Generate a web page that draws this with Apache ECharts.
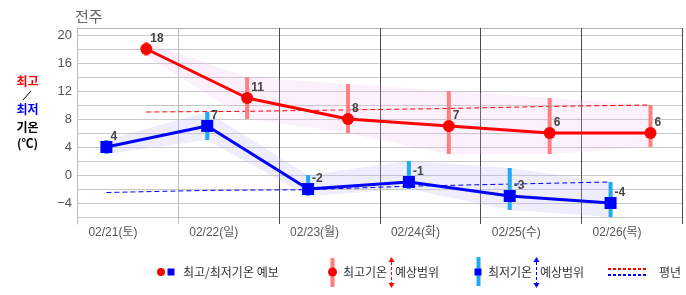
<!DOCTYPE html>
<html><head><meta charset="utf-8">
<script src="https://cdn.jsdelivr.net/npm/echarts@6/dist/echarts.min.js"></script>
<style>html,body{margin:0;padding:0;background:#fff}#c{width:686px;height:295px}</style>
</head><body><div id="c"></div>
<script>
const days = ['02/21(토)','02/22(일)','02/23(월)','02/24(화)','02/25(수)','02/26(목)'];
const maxTemp = [18, 11, 8, 7, 6, 6];
const minTemp = [4, 7, -2, -1, -3, -4];
const maxLow  = [17, 8, 6, 3, 3, 4];
const maxHigh = [19, 14, 13, 12, 11, 10];
const minLow  = [3, 5, -3, -2, -5, -6];
const minHigh = [5, 9, 0, 2, 1, -1];
const normalMax = [9.0, 9.1, 9.3, 9.5, 9.8, 10.0];
const normalMin = [-2.5, -2.2, -2.1, -1.6, -1.3, -1.0];
const yTickLabels = [-4, 0, 4, 8, 12, 16, 20];
const yGridValues = [-6, -4, -2, 0, 2, 4, 6, 8, 10, 12, 14, 16, 18, 20, 21];
const dayBoundaries = [1, 2, 3, 4, 5, 6];
const Y_MIN = -7, Y_MAX = 21;
const MIN_HOUR = 7, MAX_HOUR = 16.5;

const minX = days.map((d, i) => i + MIN_HOUR / 24);
const maxX = days.map((d, i) => i + MAX_HOUR / 24);

const NUMFONT = "'Liberation Sans','Noto Sans CJK KR',sans-serif";
const KRFONT = "'Noto Sans CJK KR',sans-serif";

function bandSeries(xs, lo, hi, color) {
  return {
    type: 'custom', xAxisIndex: 1, yAxisIndex: 0, z: 2, silent: true,
    data: xs.map((x, i) => [x, lo[i], hi[i]]),
    encode: { x: 0, y: [1, 2] },
    renderItem: function (params, api) {
      if (params.dataIndex !== 0) return null;
      const up = xs.map((x, i) => api.coord([x, hi[i]]));
      const dn = xs.map((x, i) => api.coord([x, lo[i]])).reverse();
      return { type: 'polygon', shape: { points: up.concat(dn) }, style: { fill: color } };
    }
  };
}
function errSeries(xs, lo, hi, color) {
  return {
    type: 'custom', xAxisIndex: 1, yAxisIndex: 0, z: 4, silent: true,
    data: xs.map((x, i) => [x, lo[i], hi[i]]),
    encode: { x: 0, y: [1, 2] },
    renderItem: function (params, api) {
      const p1 = api.coord([api.value(0), api.value(1)]);
      const p2 = api.coord([api.value(0), api.value(2)]);
      return { type: 'line', shape: { x1: p1[0], y1: p1[1], x2: p2[0], y2: p2[1] }, style: { stroke: color, lineWidth: 4 } };
    }
  };
}
const hGridSeries = {
  type: 'custom', xAxisIndex: 1, yAxisIndex: 0, z: 1, silent: true, clip: false,
  data: yGridValues.map(v => [0, v]),
  encode: { x: 0, y: 1 },
  renderItem: function (params, api) {
    const v = api.value(1);
    const a = api.coord([0, v]), b = api.coord([6, v]);
    const y = Math.round(a[1]) + 0.5;
    return { type: 'line', shape: { x1: a[0], y1: y, x2: b[0], y2: y },
      style: { stroke: v === Y_MAX ? '#b0b0b0' : '#c8c8c8', lineWidth: 1 } };
  }
};
const vGridSeries = {
  type: 'custom', xAxisIndex: 1, yAxisIndex: 0, z: 1, silent: true, clip: false,
  data: dayBoundaries.map(v => [v, Y_MIN]),
  encode: { x: 0, y: 1 },
  renderItem: function (params, api) {
    const v = api.value(0);
    const a = api.coord([v, Y_MIN]), b = api.coord([v, Y_MAX]);
    const x = Math.round(a[0]) + 0.5;
    return { type: 'line', shape: { x1: x, y1: a[1], x2: x, y2: b[1] },
      style: { stroke: v === 1 ? '#bbbbbb' : '#4a4a4a', lineWidth: 1 } };
  }
};

const labelCfg = { show: true, position: 'right', distance: -2, offset: [0, -10], formatter: p => String(p.value[1]), color: '#444', fontWeight: 'bold', fontSize: 12, fontFamily: NUMFONT };

const chart = echarts.init(document.getElementById('c'), null, { renderer: 'canvas' });
chart.setOption({
  animation: false,
  backgroundColor: '#fff',
  grid: { left: 77, right: 4, top: 28, bottom: 71, outerBoundsMode: 'none' },
  xAxis: [
    { type: 'category', data: days, boundaryGap: true,
      axisLine: { show: true, lineStyle: { color: '#aaa' } }, axisTick: { show: false },
      axisLabel: { color: '#555', fontSize: 12, fontFamily: NUMFONT, margin: 3, padding: [0, 29, 0, 0] },
      splitLine: { show: false } },
    { type: 'value', min: 0, max: 6, show: false, splitLine: { show: false } }
  ],
  yAxis: { type: 'value', min: Y_MIN, max: Y_MAX,
    axisLine: { show: true, lineStyle: { color: '#bbb' } }, axisTick: { show: false },
    splitLine: { show: false },
    axisLabel: { customValues: yTickLabels, color: '#555', fontSize: 13, fontFamily: NUMFONT, margin: 5,
      formatter: v => String(v).replace('-', '\u2212') } },
  series: [
    hGridSeries,
    vGridSeries,
    bandSeries(minX, minLow, minHigh, 'rgba(190,190,245,0.28)'),
    bandSeries(maxX, maxLow, maxHigh, 'rgba(245,185,245,0.22)'),
    { type: 'line', xAxisIndex: 1, data: maxX.map((x, i) => [x, normalMax[i]]), symbol: 'none', z: 3,
      lineStyle: { color: '#ff0000', width: 1, type: [5, 3] }, silent: true },
    { type: 'line', xAxisIndex: 1, data: minX.map((x, i) => [x, normalMin[i]]), symbol: 'none', z: 3,
      lineStyle: { color: '#0000ff', width: 1, type: [5, 3] }, silent: true },
    errSeries(maxX, maxLow, maxHigh, '#ff7f7f'),
    errSeries(minX, minLow, minHigh, '#1eaaf5'),
    { type: 'line', xAxisIndex: 1, data: maxX.map((x, i) => [x, maxTemp[i]]), z: 5,
      symbol: 'circle', symbolSize: 12, itemStyle: { color: '#ff0000' },
      lineStyle: { color: '#ff0000', width: 3 }, label: labelCfg },
    { type: 'line', xAxisIndex: 1, data: minX.map((x, i) => [x, minTemp[i]]), z: 5,
      symbol: 'rect', symbolSize: 12, itemStyle: { color: '#0000ff' },
      lineStyle: { color: '#0000ff', width: 3 }, label: labelCfg }
  ],
  graphic: [
    { type: 'text', x: 75, y: 16, style: { text: '전주', fill: '#666', font: '15px ' + KRFONT, verticalAlign: 'middle' } },
    { type: 'text', x: 27.5, y: 81, style: { text: '최고', fill: '#ff0000', font: 'bold 12px ' + KRFONT, align: 'center', verticalAlign: 'middle' } },
    { type: 'line', shape: { x1: 23, y1: 100, x2: 31, y2: 91 }, style: { stroke: '#000', lineWidth: 1 } },
    { type: 'text', x: 27.5, y: 109, style: { text: '최저', fill: '#0000ff', font: 'bold 12px ' + KRFONT, align: 'center', verticalAlign: 'middle' } },
    { type: 'text', x: 27.5, y: 127, style: { text: '기온', fill: '#000', font: 'bold 12px ' + KRFONT, align: 'center', verticalAlign: 'middle' } },
    { type: 'text', x: 27.5, y: 143, style: { text: '(℃)', fill: '#000', font: 'bold 12px ' + KRFONT, align: 'center', verticalAlign: 'middle' } },
    { type: 'circle', shape: { cx: 161, cy: 272, r: 4 }, style: { fill: '#ff0000' } },
    { type: 'rect', shape: { x: 167.5, y: 268.5, width: 7, height: 7 }, style: { fill: '#0000ff' } },
    { type: 'text', x: 183, y: 272, style: { text: '최고/최저기온 예보', fill: '#333', font: '12px ' + KRFONT, verticalAlign: 'middle' } },
    { type: 'rect', shape: { x: 330.5, y: 258, width: 4, height: 29 }, style: { fill: '#ff7f7f' } },
    { type: 'circle', shape: { cx: 332.5, cy: 272, r: 4.5 }, style: { fill: '#ff0000' } },
    { type: 'text', x: 343, y: 272, style: { text: '최고기온', fill: '#333', font: '12px ' + KRFONT, verticalAlign: 'middle' } },
    { type: 'text', x: 395, y: 272, style: { text: '예상범위', fill: '#333', font: '12px ' + KRFONT, verticalAlign: 'middle' } },
    { type: 'polygon', shape: { points: [[388.5, 262], [394.5, 262], [391.5, 257]] }, style: { fill: '#ff0000' } },
    { type: 'line', shape: { x1: 391.5, y1: 262, x2: 391.5, y2: 283 }, style: { stroke: '#ff0000', lineWidth: 1, lineDash: [3, 2] } },
    { type: 'polygon', shape: { points: [[388.5, 283], [394.5, 283], [391.5, 288]] }, style: { fill: '#ff0000' } },
    { type: 'rect', shape: { x: 476.5, y: 257, width: 4, height: 29 }, style: { fill: '#1eaaf5' } },
    { type: 'rect', shape: { x: 474.5, y: 268.5, width: 7, height: 7 }, style: { fill: '#0000ff' } },
    { type: 'text', x: 488, y: 272, style: { text: '최저기온', fill: '#333', font: '12px ' + KRFONT, verticalAlign: 'middle' } },
    { type: 'text', x: 540, y: 272, style: { text: '예상범위', fill: '#333', font: '12px ' + KRFONT, verticalAlign: 'middle' } },
    { type: 'polygon', shape: { points: [[533.5, 262], [539.5, 262], [536.5, 257]] }, style: { fill: '#0000ff' } },
    { type: 'line', shape: { x1: 536.5, y1: 262, x2: 536.5, y2: 283 }, style: { stroke: '#0000ff', lineWidth: 1, lineDash: [3, 2] } },
    { type: 'polygon', shape: { points: [[533.5, 283], [539.5, 283], [536.5, 288]] }, style: { fill: '#0000ff' } },
    { type: 'line', shape: { x1: 608, y1: 269, x2: 648, y2: 269 }, style: { stroke: '#ff0000', lineWidth: 2, lineDash: [3, 2] } },
    { type: 'line', shape: { x1: 608, y1: 275, x2: 648, y2: 275 }, style: { stroke: '#0000ff', lineWidth: 2, lineDash: [3, 2] } },
    { type: 'text', x: 659, y: 272, style: { text: '평년', fill: '#333', font: '12px ' + KRFONT, verticalAlign: 'middle' } }
  ]
});
</script></body></html>
